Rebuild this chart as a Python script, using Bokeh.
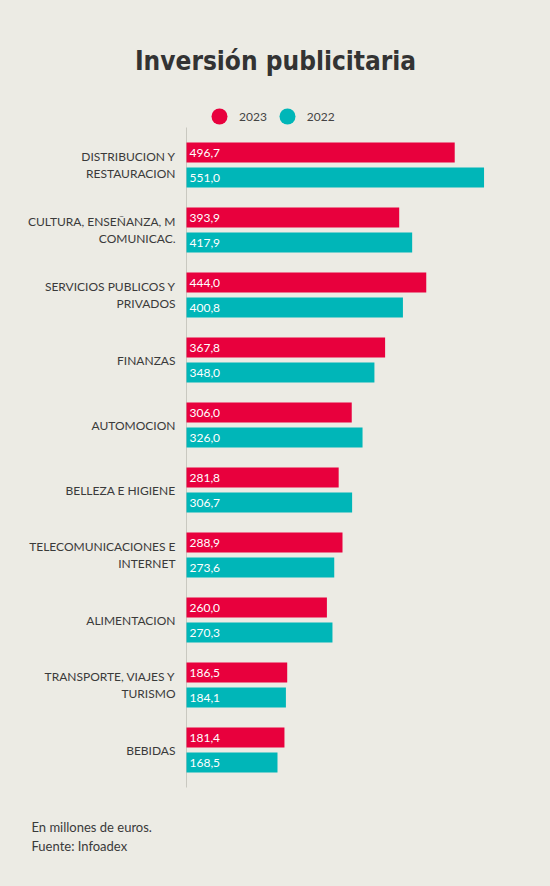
from bokeh.plotting import figure
from bokeh.models import Range1d, ColumnDataSource, Label, Legend, LegendItem, GlobalInlineStyleSheet
from bokeh.transform import dodge
from bokeh.core.properties import value
from bokeh.embed import file_html
from bokeh.resources import INLINE

# ---------------- data ----------------
title_text = "Inversión publicitaria"
categories = [
    "DISTRIBUCION Y\nRESTAURACION",
    "CULTURA, ENSEÑANZA, M\nCOMUNICAC.",
    "SERVICIOS PUBLICOS Y\nPRIVADOS",
    "FINANZAS",
    "AUTOMOCION",
    "BELLEZA E HIGIENE",
    "TELECOMUNICACIONES E\nINTERNET",
    "ALIMENTACION",
    "TRANSPORTE, VIAJES Y\nTURISMO",
    "BEBIDAS",
]
values_2023 = [496.7, 393.9, 444.0, 367.8, 306.0, 281.8, 288.9, 260.0, 186.5, 181.4]
values_2022 = [551.0, 417.9, 400.8, 348.0, 326.0, 306.7, 273.6, 270.3, 184.1, 168.5]
series_names = ["2023", "2022"]
notes = ["En millones de euros.", "Fuente: Infoadex"]

# ---------------- style ----------------
BG = "#ECEBE4"
RED = "#E8003D"
TEAL = "#00B6B8"
TXT = "#3A3A3A"
FONT = "Lato"
TITLE_FONT = "'DejaVu Sans Condensed', 'Liberation Sans Narrow', Roboto, sans-serif"

W, H = 550, 886
AXIS_PX = 186.0          # pixel of the zero line inside the canvas
PX_PER_UNIT = 0.540
GROUP_PX = 65.0
FIRST_CENTER_PX = 164.5
BAR_PX = 20.0
PITCH_PX = 25.0

def sx(px):
    return (px - AXIS_PX) / PX_PER_UNIT

def sy(px):
    return (px - FIRST_CENTER_PX) / GROUP_PX

n = len(categories)

def fmt(v):
    return f"{v:.1f}".replace(".", ",")

src = ColumnDataSource(dict(
    pos=list(range(n)),
    cat=categories,
    v23=values_2023,
    v22=values_2022,
    l23=[fmt(v) for v in values_2023],
    l22=[fmt(v) for v in values_2022],
))

p = figure(
    width=W, height=H,
    x_range=Range1d(sx(0), sx(W)),
    y_range=Range1d(sy(H), sy(0)),
    x_axis_location=None, y_axis_location=None,
    min_border=0,
    toolbar_location=None,
    output_backend="svg",
)
p.background_fill_color = BG
p.border_fill_color = BG
p.outline_line_color = None
p.grid.visible = False
p.stylesheets = [GlobalInlineStyleSheet(css=f"html, body {{ background: {BG}; }}")]

off = (PITCH_PX / 2) / GROUP_PX
bh = BAR_PX / GROUP_PX
pad = 5 / GROUP_PX

# zero line
p.segment(x0=0, y0=-0.5 - pad, x1=0, y1=n - 0.5 + pad, line_color="#C9C8C0", line_width=1)

p.hbar(y=dodge("pos", -off), height=bh, left=0, right="v23", fill_color=RED, line_color=None, source=src)
p.hbar(y=dodge("pos", off), height=bh, left=0, right="v22", fill_color=TEAL, line_color=None, source=src)

for col, d in (("l23", -off), ("l22", off)):
    p.text(x=0, y=dodge("pos", d), text=col, x_offset=3, text_baseline="middle",
           text_align="left", text_color="white", text_font=value(FONT),
           text_font_size="12px", source=src)

p.text(x=0, y="pos", text="cat", x_offset=-11, text_align="right", text_baseline="middle",
       text_color=TXT, text_font=value(FONT), text_font_size="12px", text_line_height=1.08,
       source=src)

# title
p.add_layout(Label(x=sx(275), y=sy(60), text=title_text, text_align="center",
                   text_baseline="alphabetic", text_font=TITLE_FONT, text_font_style="bold",
                   text_font_size="26px", text_color="#333333"))

# notes
for i, t in enumerate(notes):
    p.add_layout(Label(x=sx(31), y=sy(826 + 19 * i), text=t, text_align="left",
                       text_baseline="alphabetic", text_font=FONT, text_font_size="13px",
                       text_color=TXT))

# legend (markers are zero-size on the chart, only shown in the legend)
r23 = p.scatter(x=0, y="pos", size=0, marker="circle", fill_color=RED, line_color=None, source=src)
r22 = p.scatter(x=0, y="pos", size=0, marker="circle", fill_color=TEAL, line_color=None, source=src)
legend = Legend(
    items=[LegendItem(label=series_names[0], renderers=[r23]),
           LegendItem(label=series_names[1], renderers=[r22])],
    orientation="horizontal",
    location=(199, 750),
    glyph_width=40, glyph_height=40,
    label_standoff=-1, spacing=-1, padding=0, margin=0,
    border_line_color=None, background_fill_alpha=0,
    label_text_font=FONT, label_text_font_size="12px", label_text_color="#444444",
)
p.add_layout(legend)

open("out.html", "w").write(file_html(p, INLINE))
